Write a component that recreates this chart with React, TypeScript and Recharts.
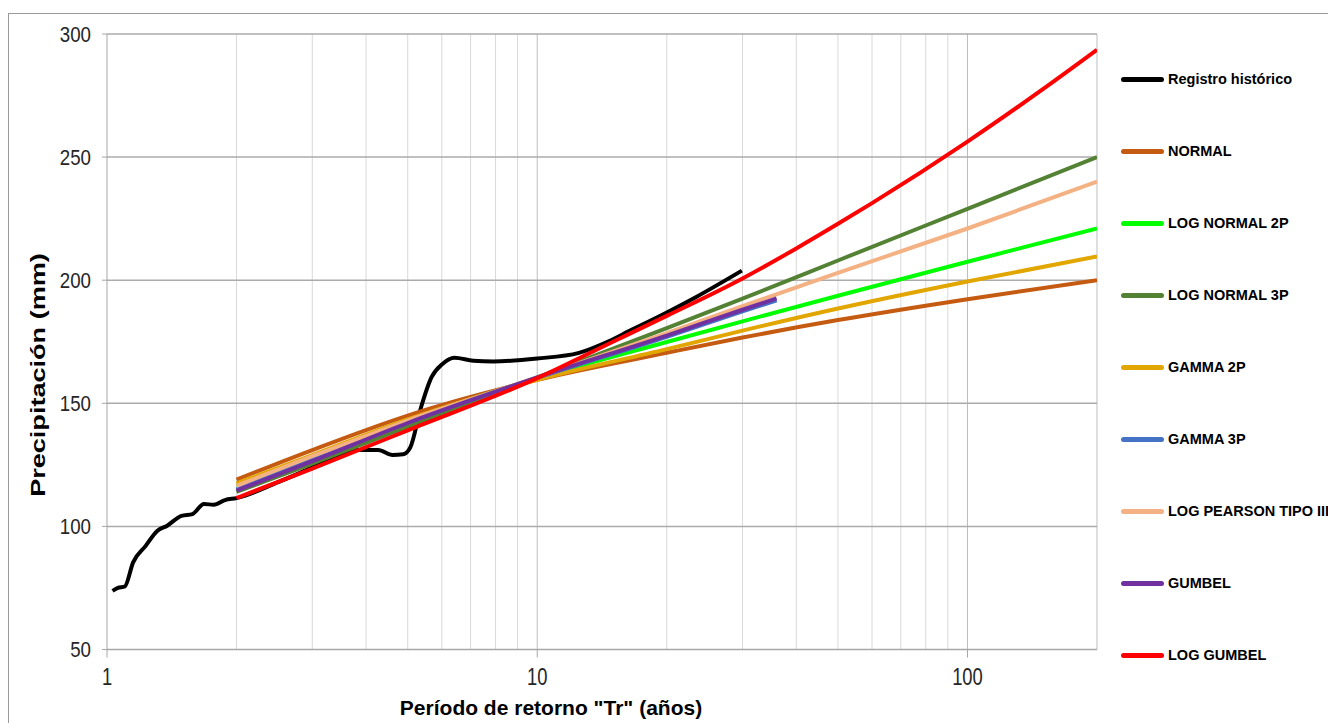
import React from "react";
import { CartesianGrid, Legend, Line, LineChart, XAxis, YAxis } from "recharts";

// return period (years) used for the fitted distributions
const fitYears = [2, 3, 5, 10, 20, 30, 50, 100, 200];
const shortYears = [2, 3, 5, 10, 20, 30, 36];
const logGumbelYears = [2, 3, 5, 10, 15, 20, 30, 40, 50, 60, 100, 150, 200];

const normal = [119, 131, 145, 159.5, 170.5, 176.7, 183.8, 192.3, 200];
const logNormal2p = [116.5, 128.5, 143, 160.2, 174.9, 183.3, 193.7, 207.5, 221];
const logNormal3p = [114, 125.5, 140.5, 160.5, 180.5, 192.5, 208, 229, 250];
const gamma2p = [117.5, 129, 143.5, 159.5, 172, 179.5, 188.5, 199.5, 209.6];
const gamma3p = [115, 127, 142.3, 160.3, 177, 187.3, 191.8];
const logPearson3 = [116.5, 128.5, 143, 160.5, 178.5, 189.5, 203, 221, 240];
const gumbel = [114.5, 126.5, 142, 160.5, 177.5, 188, 192.6];
const logGumbel = [111.5, 123.5, 139, 160.2, 175, 185.5, 200.7, 212.9, 222.9, 231.3, 256.3, 277.7, 293.6];

// historical record
const histYears = [
  1.03, 1.06, 1.1, 1.15, 1.23, 1.31, 1.38, 1.49, 1.58, 1.68, 1.77, 1.88, 2, 2.5, 3, 3.5,
  3.81, 4.27, 4.61, 4.88, 5.07, 5.37, 5.68, 6.02, 6.42, 7.1, 7.9, 10, 12.5, 14.7, 16.3, 20, 23.3, 29.9,
];
const histValues = [
  73.8, 75, 75.6, 85.4, 92.1, 98.2, 100.3, 104.3, 105, 109.1, 108.8, 110.7, 111.5, 118, 124, 129.5,
  131, 131, 129, 129.3, 132.1, 148.4, 160.6, 166, 168.5, 167.3, 167, 168.2, 170.5, 175.3, 179.2, 186.9, 193, 203.9,
];

const yTicks = [50, 100, 150, 200, 250, 300];
const xTicks = [1, 10, 100];
const minorYears = [2, 3, 4, 5, 6, 7, 8, 9, 20, 30, 40, 50, 60, 70, 80, 90];
const majorYears = [10, 100, 200];

const toRows = (xs: number[], ys: number[]) => xs.map((t, i) => ({ t, v: ys[i] }));

const series = [
  { name: "Registro histórico", color: "#000000", data: toRows(histYears, histValues) },
  { name: "NORMAL", color: "#c55a11", data: toRows(fitYears, normal) },
  { name: "LOG NORMAL 2P", color: "#00ff00", data: toRows(fitYears, logNormal2p) },
  { name: "LOG NORMAL 3P", color: "#548235", data: toRows(fitYears, logNormal3p) },
  { name: "GAMMA 2P", color: "#e2a600", data: toRows(fitYears, gamma2p) },
  { name: "GAMMA 3P", color: "#4472c4", data: toRows(shortYears, gamma3p) },
  { name: "LOG PEARSON TIPO III", color: "#f4b183", data: toRows(fitYears, logPearson3) },
  { name: "GUMBEL", color: "#7030a0", data: toRows(shortYears, gumbel) },
  { name: "LOG GUMBEL", color: "#ff0000", data: toRows(logGumbelYears, logGumbel) },
];

const FONT = "'Liberation Sans', Arial, sans-serif";

const YTick = ({ x, y, payload }: any) => (
  <text
    transform={`translate(${x},${y}) scale(0.85,1)`}
    textAnchor="end"
    dy="0.36em"
    fontSize={22}
    fontFamily={FONT}
    fill="#262626"
  >
    {payload.value}
  </text>
);

const XTick = ({ x, y, payload }: any) => (
  <text
    transform={`translate(${x},${y}) scale(0.8,1)`}
    textAnchor="middle"
    dy="0.72em"
    fontSize={23}
    fontFamily={FONT}
    fill="#262626"
  >
    {payload.value}
  </text>
);

const XTitle = () => (
  <text x={551} y={715} textAnchor="middle" fontSize={21} fontWeight="bold" fontFamily={FONT} fill="#000">
    Período de retorno "Tr" (años)
  </text>
);

const YTitle = () => (
  <text
    transform="translate(44.5,375) rotate(-90) scale(1.29,1)"
    textAnchor="middle"
    fontSize={21}
    fontWeight="bold"
    fontFamily={FONT}
    fill="#000"
  >
    Precipitación (mm)
  </text>
);

const renderLegend = () => (
  <div style={{ position: "relative", width: 207, height: 600 }}>
    {series.map((s, i) => (
      <div
        key={s.name}
        style={{ position: "absolute", left: 0, top: i * 72, height: 16, display: "flex", alignItems: "center", whiteSpace: "nowrap" }}
      >
        <span style={{ display: "inline-block", width: 43, height: 5, borderRadius: 2.5, background: s.color }} />
        <span style={{ marginLeft: 4, fontFamily: FONT, fontWeight: "bold", fontSize: 14.5, color: "#000" }}>{s.name}</span>
      </div>
    ))}
  </div>
);

export default function App() {
  return (
    <div style={{ position: "absolute", left: 0, top: 0, width: 1328, height: 723, overflow: "hidden", background: "#fff" }}>
      <div
        style={{
          position: "absolute",
          left: 8,
          top: 13,
          width: 1340,
          height: 740,
          borderTop: "1px solid #9a9a9a",
          borderLeft: "1px solid #9a9a9a",
        }}
      />
      <LineChart width={1328} height={723} margin={{ top: 34, right: 231, bottom: 43.5, left: 0 }}>
        <CartesianGrid horizontal={false} verticalValues={minorYears} stroke="#d9d9d9" />
        <CartesianGrid horizontal={false} verticalValues={majorYears} stroke="#bdbdbd" />
        <CartesianGrid vertical={false} stroke="#ababab" strokeWidth={1.5} />
        <XAxis
          dataKey="t"
          type="number"
          scale="log"
          domain={[1, 200]}
          allowDataOverflow
          ticks={xTicks}
          tick={<XTick />}
          tickSize={8}
          tickMargin={11}
          height={30}
          tickLine={{ stroke: "#a6a6a6" }}
          axisLine={{ stroke: "#a6a6a6" }}
          label={{ content: <XTitle /> }}
        />
        <YAxis
          type="number"
          domain={[50, 300]}
          ticks={yTicks}
          width={107}
          tick={<YTick />}
          tickSize={5}
          tickMargin={11}
          tickLine={{ stroke: "#a6a6a6" }}
          axisLine={{ stroke: "#a6a6a6" }}
          label={{ content: <YTitle /> }}
        />
        <Legend
          layout="vertical"
          align="center"
          verticalAlign="middle"
          content={renderLegend}
          wrapperStyle={{ left: 1121, top: 71, width: 207 }}
        />
        {series.map((s) => (
          <Line
            key={s.name}
            data={s.data}
            dataKey="v"
            name={s.name}
            type="monotone"
            stroke={s.color}
            strokeWidth={4}
            dot={false}
            isAnimationActive={false}
          />
        ))}
      </LineChart>
    </div>
  );
}
